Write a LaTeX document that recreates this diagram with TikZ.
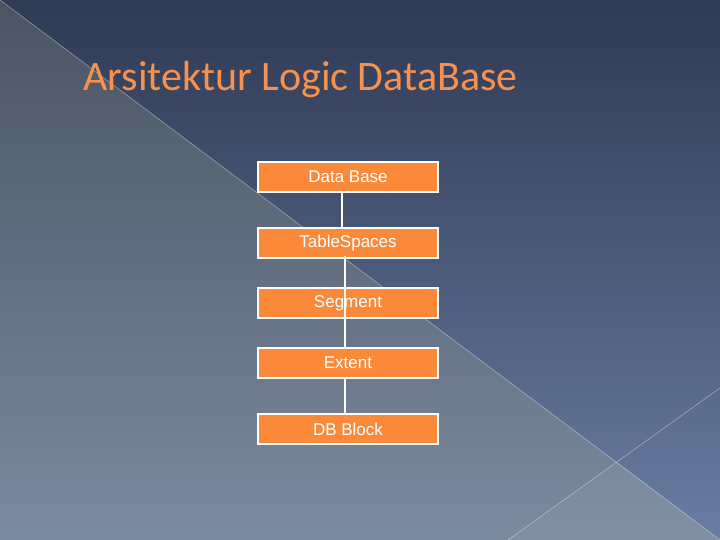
\documentclass[tikz,border=0pt]{standalone}
\usepackage{fontspec}
\setmainfont{Liberation Sans}
\newfontfamily\titlefont{Carlito}
\definecolor{bgtop}{RGB}{47,58,84}
\definecolor{bgbot}{RGB}{106,124,162}
\definecolor{greytop}{RGB}{74,84,98}
\definecolor{greybot}{RGB}{124,138,160}
\definecolor{layerfill}{RGB}{250,137,58}
\definecolor{titleorange}{RGB}{246,145,78}
\begin{document}
\begin{tikzpicture}[x=1pt,y=-1pt,
    layer/.style={draw=white,line width=1.4pt,fill=layerfill,text=white,
        minimum width=180pt,minimum height=30pt,inner sep=0pt,
        font=\fontsize{17}{20}\selectfont},
    link/.style={draw=white,line width=1.4pt},
    streak/.style={draw=white,draw opacity=0.4,line width=0.6pt}]
            \useasboundingbox (0,0) rectangle (720,540);
            \shade[top color=bgtop,bottom color=bgbot] (0,0) rectangle (720,540);
            \shade[top color=greytop,bottom color=greybot] (0,0) -- (720,540) -- (0,540) -- cycle;
            \fill[white,fill opacity=0.05] (508,540) -- (617,462) -- (720,540) -- cycle;
            \draw[streak] (0,0) -- (720,540);
            \draw[streak] (508,540) -- (720,388);
            \node[anchor=base west,text=titleorange,font=\titlefont\fontsize{42}{50}\selectfont]
                (title) at (80,91) {Arsitektur Logic DataBase};
            \path (348,177) node[layer] (db) {Data Base};
            \path (348,243) node[layer] (ts) {TableSpaces};
            \path (348,303) node[layer] (seg) {Segment};
            \path (348,363) node[layer] (ext) {Extent};
            \path (348,429) node[layer] (blk) {DB Block};
            \draw[link] ([xshift=-6pt]db.south) -- ([xshift=-6pt]ts.north);
            \draw[link] ([xshift=-3pt,yshift=3pt]ts.south) -- ([xshift=-3pt,yshift=-1pt]seg.center);
            \draw[link] ([xshift=-3pt,yshift=-1pt]seg.center) -- ([xshift=-3pt]ext.north);
            \draw[link] ([xshift=-3pt]ext.south) -- ([xshift=-3pt]blk.north);
        \end{tikzpicture}
\end{document}
